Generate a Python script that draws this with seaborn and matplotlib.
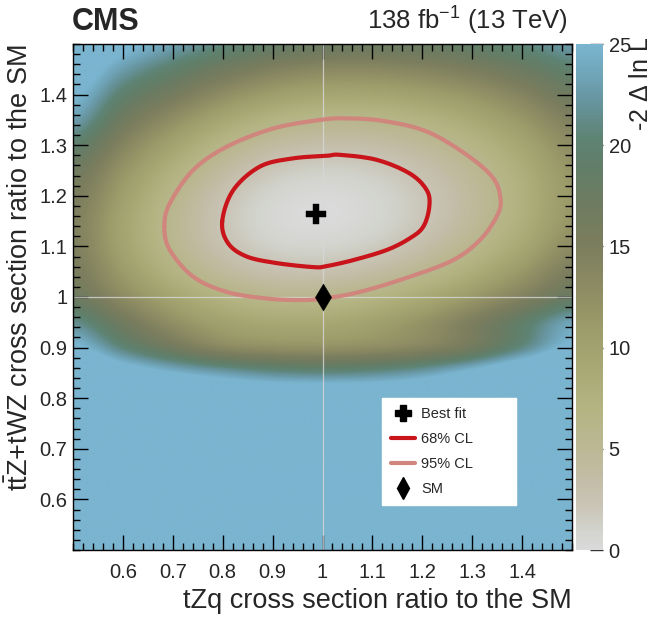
import numpy as np
import matplotlib
matplotlib.use("Agg")
import matplotlib.pyplot as plt
import seaborn as sns
import pandas as pd
from matplotlib.colors import LinearSegmentedColormap
from matplotlib.lines import Line2D
from matplotlib.ticker import MultipleLocator, FuncFormatter

# ---------------- data ----------------
x_grid = [0.5, 0.6, 0.7, 0.8, 0.9, 1.0, 1.1, 1.2, 1.3, 1.4, 1.5]
y_grid = [0.50, 0.55, 0.60, 0.65, 0.70, 0.75, 0.80, 0.85, 0.90, 0.95, 1.00,
          1.05, 1.10, 1.15, 1.20, 1.25, 1.30, 1.35, 1.40, 1.45, 1.50]
# -2 Delta lnL, one row per y value (bottom to top), columns follow x_grid
nll_050 = [35, 35, 35, 35, 35, 35, 35, 35, 35, 35, 35]
nll_055 = [35, 35, 35, 35, 35, 35, 35, 35, 35, 35, 35]
nll_060 = [35, 35, 35, 35, 35, 35, 35, 35, 35, 35, 35]
nll_065 = [35, 35, 35, 35, 35, 35, 35, 35, 35, 35, 35]
nll_070 = [35, 35, 35, 35, 35, 35, 35, 35, 35, 35, 35]
nll_075 = [35, 35, 35, 35, 34, 34, 34, 35, 35, 35, 35]
nll_080 = [35, 35, 33, 31, 30, 30, 30, 31, 33, 35, 35]
nll_085 = [32, 28, 25, 23, 21.5, 21, 21.5, 23, 26, 30, 34]
nll_090 = [26, 20.5, 16.5, 13.5, 12.5, 12.3, 12.8, 14, 16.5, 21, 26]
nll_095 = [21.5, 16.5, 12.5, 10, 9, 9, 10, 12, 15, 19, 23.5]
nll_100 = [17.2, 13.0, 9.6, 7.1, 5.8, 5.8, 6.8, 8.7, 11.3, 14.4, 17.9]
nll_105 = [15.5, 11.0, 7.1, 4.4, 2.95, 2.8, 3.7, 5.5, 8.1, 11.4, 15.1]
nll_110 = [14.7, 9.8, 5.7, 2.8, 1.2, 0.9, 1.6, 3.3, 5.8, 9.1, 12.9]
nll_115 = [14.6, 9.6, 5.4, 2.3, 0.5, 0.05, 0.65, 2.15, 4.55, 7.8, 11.6]
nll_120 = [15.4, 10.4, 6.0, 2.7, 0.8, 0.2, 0.7, 2.1, 4.3, 7.5, 11.2]
nll_125 = [16.8, 11.8, 7.5, 4.1, 2.0, 1.25, 1.6, 2.9, 5.0, 8.0, 11.6]
nll_130 = [19.5, 13.9, 9.7, 6.3, 4.0, 3.2, 3.4, 4.5, 6.5, 9.3, 12.7]
nll_135 = [23.0, 16.6, 12.5, 9.2, 6.9, 5.9, 6.0, 7.0, 8.8, 11.4, 14.5]
nll_140 = [25.5, 19.6, 15.9, 12.7, 10.5, 9.4, 9.4, 10.2, 11.7, 14.0, 16.9]
nll_145 = [27.5, 22.8, 19.4, 16.5, 14.4, 13.3, 13.2, 13.9, 15.2, 17.2, 19.6]
nll_150 = [29.0, 25.8, 23.0, 20.5, 18.6, 17.5, 17.4, 17.8, 18.9, 20.5, 22.6]

# 68% CL contour
cl68_x = [0.799, 0.821, 0.875, 0.941, 1.008, 1.035, 1.109, 1.175, 1.209, 1.214,
          1.202, 1.175, 1.129, 1.062, 1.008, 0.982, 0.908, 0.848, 0.811]
cl68_y = [1.149, 1.211, 1.258, 1.274, 1.279, 1.281, 1.271, 1.244, 1.211, 1.178,
          1.139, 1.116, 1.093, 1.073, 1.061, 1.059, 1.067, 1.080, 1.106]
# 95% CL contour
cl95_x = [0.683, 0.694, 0.741, 0.808, 0.901, 0.995, 1.048, 1.122, 1.209, 1.289,
          1.342, 1.357, 1.349, 1.316, 1.262, 1.175, 1.075, 1.002, 0.955, 0.888,
          0.808, 0.741, 0.694]
cl95_y = [1.139, 1.185, 1.251, 1.297, 1.333, 1.350, 1.353, 1.348, 1.327, 1.281,
          1.235, 1.192, 1.159, 1.113, 1.073, 1.040, 1.010, 0.997, 0.994, 0.997,
          1.010, 1.040, 1.093]

best_fit_x = [0.987]
best_fit_y = [1.164]
sm_x = [1.0]
sm_y = [1.0]

x_ticks = [0.6, 0.7, 0.8, 0.9, 1.0, 1.1, 1.2, 1.3, 1.4]
y_ticks = [0.6, 0.7, 0.8, 0.9, 1.0, 1.1, 1.2, 1.3, 1.4]
cbar_ticks = [0, 5, 10, 15, 20, 25]

# ---------------- helpers (rendering only) ----------------
def cubic_resample(arr, n_new, axis):
    a = np.moveaxis(np.asarray(arr, float), axis, 0)
    n = a.shape[0]
    pos = np.linspace(0, n - 1, n_new)
    i = np.clip(np.floor(pos).astype(int), 0, n - 2)
    t = (pos - i).reshape((-1,) + (1,) * (a.ndim - 1))
    g = lambda k: a[np.clip(k, 0, n - 1)]
    p0, p1, p2, p3 = g(i - 1), g(i), g(i + 1), g(i + 2)
    out = 0.5 * (2 * p1 + (-p0 + p2) * t + (2 * p0 - 5 * p1 + 4 * p2 - p3) * t ** 2
                 + (-p0 + 3 * p1 - 3 * p2 + p3) * t ** 3)
    return np.moveaxis(out, 0, axis)


def smooth_closed(xs, ys, per=10):
    P = np.column_stack([xs, ys])
    n = len(P)
    out = []
    for k in range(n):
        p0, p1, p2, p3 = P[(k - 1) % n], P[k], P[(k + 1) % n], P[(k + 2) % n]
        for t in np.linspace(0, 1, per, endpoint=False):
            out.append(0.5 * (2 * p1 + (-p0 + p2) * t + (2 * p0 - 5 * p1 + 4 * p2 - p3) * t ** 2
                              + (-p0 + 3 * p1 - 3 * p2 + p3) * t ** 3))
    out.append(out[0])
    out = np.array(out)
    return pd.DataFrame({"x": out[:, 0], "y": out[:, 1], "order": np.arange(len(out))})


# ---------------- style ----------------
sns.set_style("ticks")
plt.rcParams["font.family"] = ["Liberation Sans", "DejaVu Sans"]
plt.rcParams["mathtext.fontset"] = "custom"
plt.rcParams["mathtext.rm"] = "Liberation Sans"
plt.rcParams["mathtext.it"] = "Liberation Sans:italic"
plt.rcParams["mathtext.bf"] = "Liberation Sans:bold"

cmap = LinearSegmentedColormap.from_list("cms_nll", [
    (0.0 / 25, "#dadada"),
    (1.0 / 25, "#d1d3cb"),
    (2.0 / 25, "#cac6b9"),
    (3.5 / 25, "#c3bca6"),
    (5.0 / 25, "#bcb894"),
    (7.0 / 25, "#b3b482"),
    (9.0 / 25, "#a8a874"),
    (11.0 / 25, "#9c9b6a"),
    (13.0 / 25, "#8c8b63"),
    (15.0 / 25, "#7c7e5e"),
    (17.0 / 25, "#6f7b60"),
    (19.0 / 25, "#627e68"),
    (20.5 / 25, "#5e8475"),
    (22.0 / 25, "#66929a"),
    (23.5 / 25, "#6fa4b8"),
    (25.0 / 25, "#7ab4cf"),
])

W, H = 661, 617
fig = plt.figure(figsize=(W / 100, H / 100), dpi=100)
ax = fig.add_axes([73 / W, 1 - 550 / H, 499 / W, 506 / H])
cax = fig.add_axes([576 / W, 1 - 550 / H, 27 / W, 506 / H])

Z = np.array([nll_050, nll_055, nll_060, nll_065, nll_070, nll_075, nll_080,
              nll_085, nll_090, nll_095, nll_100, nll_105, nll_110, nll_115,
              nll_120, nll_125, nll_130, nll_135, nll_140, nll_145, nll_150], float)
Zf = cubic_resample(cubic_resample(Z, 500, 0), 500, 1)
Zf = np.clip(Zf, 0, 25)
im = ax.imshow(Zf, origin="lower", extent=[x_grid[0], x_grid[-1], y_grid[0], y_grid[-1]],
               aspect="auto", cmap=cmap, vmin=0, vmax=25, interpolation="bilinear", zorder=0)

# SM guide lines
ax.axvline(sm_x[0], color="#d8d8d8", lw=0.9, alpha=0.8, zorder=1)
ax.axhline(sm_y[0], color="#d8d8d8", lw=0.9, alpha=0.8, zorder=1)

c95 = smooth_closed(cl95_x, cl95_y)
c68 = smooth_closed(cl68_x, cl68_y)
col68 = "#c8141a"
col95 = "#d0857d"
sns.lineplot(data=c95, x="x", y="y", sort=False, estimator=None, color=col95, lw=3.0, ax=ax, zorder=3)
sns.lineplot(data=c68, x="x", y="y", sort=False, estimator=None, color=col68, lw=3.0, ax=ax, zorder=4)

sns.scatterplot(x=best_fit_x, y=best_fit_y, marker="P", s=190, color="black", edgecolor="black",
                linewidth=0.3, ax=ax, zorder=6)
sns.scatterplot(x=sm_x, y=sm_y, marker="d", s=190, color="black", edgecolor="black",
                linewidth=0.3, ax=ax, zorder=6)

ax.set_xlim(0.5, 1.5)
ax.set_ylim(0.5, 1.5)
fmt = FuncFormatter(lambda v, p: f"{v:g}")
ax.set_xticks(x_ticks)
ax.set_yticks(y_ticks)
ax.xaxis.set_major_formatter(fmt)
ax.yaxis.set_major_formatter(fmt)
ax.xaxis.set_minor_locator(MultipleLocator(0.02))
ax.yaxis.set_minor_locator(MultipleLocator(0.02))
ax.tick_params(which="both", direction="in", top=True, right=True, color="black", width=1.0)
ax.tick_params(which="major", length=10.5, labelsize=14.5)
ax.tick_params(axis="x", which="major", pad=9)
ax.tick_params(axis="y", which="major", pad=4)
ax.tick_params(which="minor", length=5)
for sp in ax.spines.values():
    sp.set_linewidth(1.0)
    sp.set_color("black")

ax.set_xlabel("tZq cross section ratio to the SM", fontsize=19.5, loc="right", labelpad=5)
ax.set_ylabel(r"$\mathregular{t\bar{t}}$Z+tWZ cross section ratio to the SM", fontsize=19.5,
              loc="top", labelpad=4)

handles = [
    Line2D([], [], marker="P", color="black", linestyle="none", markersize=12),
    Line2D([], [], color=col68, lw=3.0),
    Line2D([], [], color=col95, lw=3.0),
    Line2D([], [], marker="d", color="black", linestyle="none", markersize=11),
]
leg = ax.legend(handles, ["Best fit", "68% CL", "95% CL", "SM"], loc="upper left",
                bbox_to_anchor=(0.619, 0.103, 0.269, 0.197), mode="expand",
                fontsize=10.5, frameon=True, fancybox=False,
                framealpha=1.0, facecolor="white", edgecolor="white", handlelength=1.7,
                labelspacing=0.75, borderpad=0.6, handletextpad=0.4, borderaxespad=0)
leg.set_zorder(10)

cb = fig.colorbar(im, cax=cax, ticks=cbar_ticks)
cb.outline.set_visible(False)
cax.tick_params(direction="in", length=9.5, width=1.0, color="#333333", labelsize=14.5, pad=4)
fig.text(641 / W, 1 - 37 / H, r"-2 $\Delta$ ln L", rotation=90, ha="center", va="top", fontsize=18)

fig.text(72 / W, 1 - 30 / H, "CMS", fontweight="bold", fontsize=22, ha="left", va="baseline")
fig.text(568 / W, 1 - 30 / H, r"138 fb$^{\mathregular{-1}}$ (13 TeV)", fontsize=18.5,
         ha="right", va="baseline")

fig.savefig("out.png", dpi=100)
